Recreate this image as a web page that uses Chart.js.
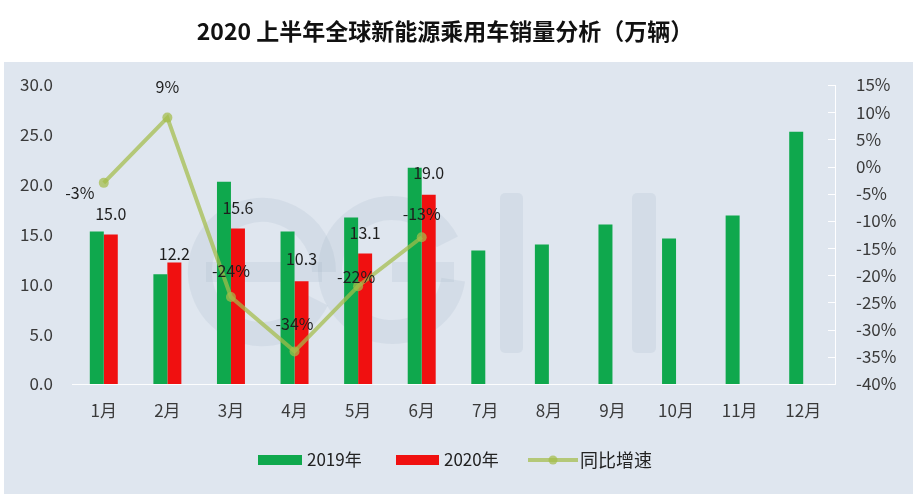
<!DOCTYPE html>
<html><head><meta charset="utf-8">
<script src="https://cdn.jsdelivr.net/npm/chart.js@4.4.1/dist/chart.umd.min.js"></script>
<style>html,body{margin:0;padding:0;background:#fff;}#wrap{width:916px;height:498px;}</style>
</head><body><div id="wrap"><canvas id="c" width="916" height="498"></canvas></div>
<script>
const TITLE = '2020 上半年全球新能源乘用车销量分析（万辆）';
const categories = ['1月','2月','3月','4月','5月','6月','7月','8月','9月','10月','11月','12月'];
const sales2019 = [15.3, 11.0, 20.3, 15.3, 16.7, 21.7, 13.4, 14.0, 16.0, 14.6, 16.9, 25.3];
const sales2020 = [15.0, 12.2, 15.6, 10.3, 13.1, 19.0, null, null, null, null, null, null];
const growth = [-3, 9, -24, -34, -22, -13, null, null, null, null, null, null];
const seriesNames = ['2019年', '2020年', '同比增速'];
const leftRange = {min: 0, max: 30, step: 5};
const rightRange = {min: -40, max: 15, step: 5};

// label placement (style only)
const barLabelDy = [-21, -8, -21, -22, -21, -22];
const lineLabelDx = [-24, 0, 0, 0, -2, 0];
const lineLabelDy = [10, -31, -26, -27, -9, -23];

const GREEN = '#0fa84d', RED = '#f01010', LINE = 'rgba(163,189,74,0.72)';
const FONT = '"Noto Sans CJK SC","Noto Sans",sans-serif';

const bgPlugin = {
  id: 'bg',
  beforeDraw(chart) {
    const c = chart.ctx;
    c.save();
    c.fillStyle = '#fff'; c.fillRect(0, 0, chart.width, chart.height);
    c.fillStyle = '#dfe6ef'; c.fillRect(4, 62, 909, 432);
    c.restore();
  },
  beforeDatasetsDraw(chart) {
    const c = chart.ctx;
    c.save();
    // faint watermark
    c.strokeStyle = 'rgba(150,165,188,0.15)';
    c.fillStyle = 'rgba(150,165,188,0.15)';
    c.lineWidth = 24;
    c.beginPath(); c.arc(262, 272, 62, 0.15 * Math.PI, 2.0 * Math.PI); c.stroke();
    c.fillRect(206, 262, 116, 20);
    c.beginPath(); c.arc(392, 270, 62, 0.05 * Math.PI, 1.85 * Math.PI); c.stroke();
    c.fillRect(392, 262, 62, 20);
    const rr = (x, y, w, h, r) => { c.beginPath(); c.roundRect(x, y, w, h, r); c.fill(); };
    rr(500, 193, 23, 160, 5);
    rr(632, 193, 24, 160, 5);
    // right axis line with inward ticks
    const y1 = chart.scales.y1, a = chart.chartArea;
    c.strokeStyle = 'rgba(255,255,255,0.95)';
    c.lineWidth = 1;
    c.beginPath(); c.moveTo(a.right + 0.5, a.top); c.lineTo(a.right + 0.5, a.bottom); c.stroke();
    for (let v = rightRange.min; v <= rightRange.max; v += rightRange.step) {
      const y = Math.round(y1.getPixelForValue(v)) + 0.5;
      c.beginPath(); c.moveTo(a.right - 7, y); c.lineTo(a.right + 0.5, y); c.stroke();
    }
    c.restore();
  },
  afterDatasetsDraw(chart) {
    const c = chart.ctx;
    c.save();
    c.font = '16px ' + FONT;
    c.fillStyle = '#1e1e1e';
    c.textAlign = 'center'; c.textBaseline = 'middle';
    const m1 = chart.getDatasetMeta(1);
    sales2020.forEach((v, i) => {
      if (v == null) return;
      const el = m1.data[i];
      c.fillText(v.toFixed(1), el.x, el.y + barLabelDy[i]);
    });
    const m2 = chart.getDatasetMeta(2);
    growth.forEach((v, i) => {
      if (v == null) return;
      const el = m2.data[i];
      c.fillText(v + '%', el.x + lineLabelDx[i], el.y + lineLabelDy[i]);
    });
    c.restore();
  },
  afterDraw(chart) {
    const c = chart.ctx;
    c.save();
    c.fillStyle = '#111';
    c.font = 'bold 23px ' + FONT;
    c.textAlign = 'center'; c.textBaseline = 'middle';
    c.fillText(TITLE, 445, 31);
    // legend
    const ly = 460;
    c.font = '17px ' + FONT;
    c.textAlign = 'left';
    c.fillStyle = GREEN; c.fillRect(258, ly - 5, 44, 10);
    c.fillStyle = '#222'; c.fillText(seriesNames[0], 307, ly);
    c.fillStyle = RED; c.fillRect(396, ly - 5, 43, 10);
    c.fillStyle = '#222'; c.fillText(seriesNames[1], 444, ly);
    c.strokeStyle = LINE; c.lineWidth = 4;
    c.beginPath(); c.moveTo(528, ly); c.lineTo(578, ly); c.stroke();
    c.fillStyle = LINE; c.beginPath(); c.arc(553, ly, 4.5, 0, Math.PI * 2); c.fill();
    c.fillStyle = '#222'; c.font = '18px ' + FONT; c.fillText(seriesNames[2], 580, ly);
    c.restore();
  }
};

new Chart(document.getElementById('c'), {
  data: {
    labels: categories,
    datasets: [
      {type: 'bar', label: seriesNames[0], data: sales2019, backgroundColor: GREEN, yAxisID: 'y', order: 2,
       categoryPercentage: 0.44, barPercentage: 1.0},
      {type: 'bar', label: seriesNames[1], data: sales2020, backgroundColor: RED, yAxisID: 'y', order: 2,
       categoryPercentage: 0.44, barPercentage: 1.0},
      {type: 'line', label: seriesNames[2], data: growth, yAxisID: 'y1', order: 0,
       borderColor: LINE, backgroundColor: LINE, borderWidth: 4, pointRadius: 5, pointBorderWidth: 0,
       pointBackgroundColor: LINE, tension: 0, spanGaps: false}
    ]
  },
  options: {
    responsive: false, animation: false, devicePixelRatio: 1,
    layout: {padding: {top: 85, left: 0, right: 0, bottom: 0}},
    plugins: {legend: {display: false}, title: {display: false}, tooltip: {enabled: false}},
    scales: {
      x: {
        grid: {display: false, drawTicks: false},
        border: {display: true, color: 'rgba(255,255,255,0.9)', width: 1},
        ticks: {font: {size: 17, family: FONT}, color: '#3a3a3a', padding: 16, maxRotation: 0},
        afterFit(s) { s.height = 114; }
      },
      y: {
        position: 'left', min: leftRange.min, max: leftRange.max,
        grid: {display: false, drawTicks: false}, border: {display: false},
        ticks: {stepSize: leftRange.step, font: {size: 17, family: FONT}, color: '#3a3a3a', padding: 19,
                callback: v => Number(v).toFixed(1)},
        afterFit(s) { s.width = 72; }
      },
      y1: {
        position: 'right', min: rightRange.min, max: rightRange.max,
        grid: {display: false, drawTicks: false}, border: {display: false},
        ticks: {stepSize: rightRange.step, font: {size: 17, family: FONT}, color: '#3a3a3a', padding: 21,
                callback: v => v + '%'},
        afterFit(s) { s.width = 81; }
      }
    }
  },
  plugins: [bgPlugin]
});
</script></body></html>
